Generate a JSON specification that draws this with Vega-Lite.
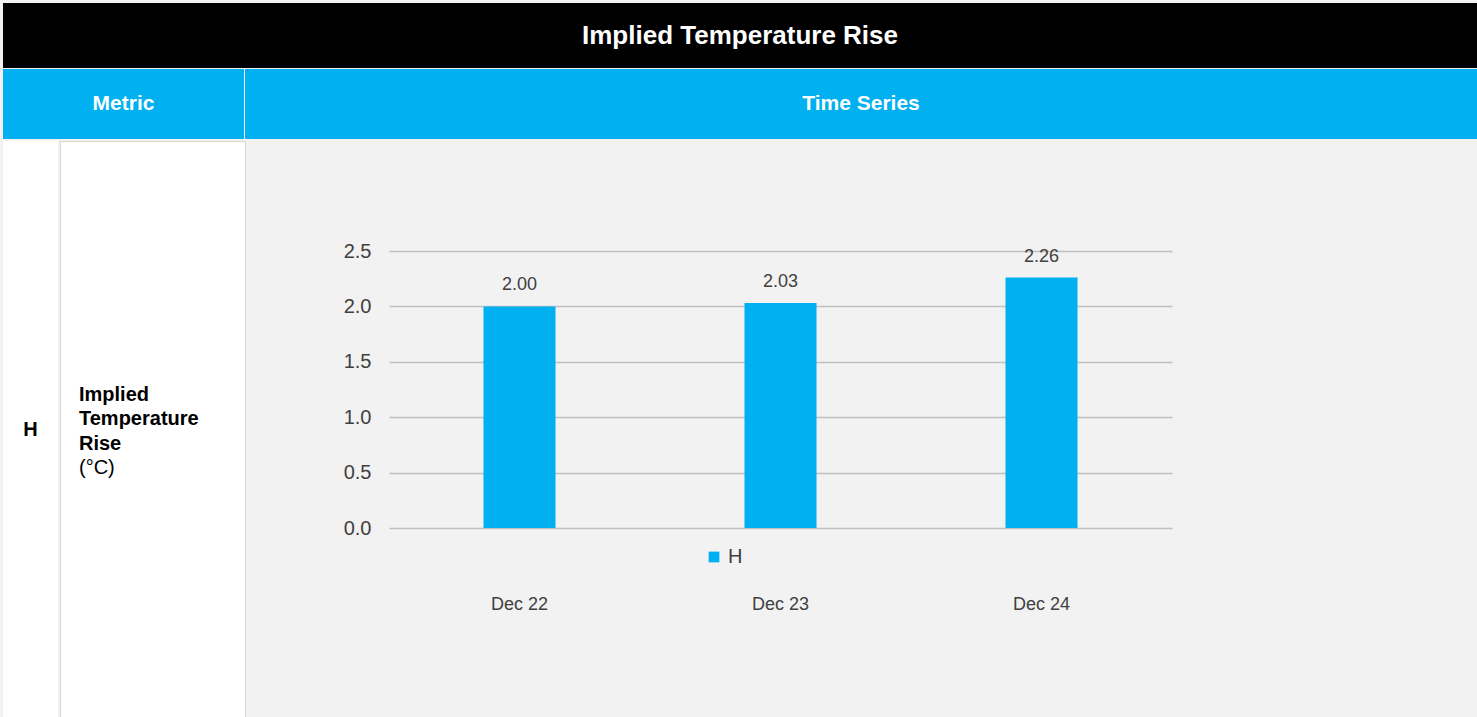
{
  "$schema": "https://vega.github.io/schema/vega-lite/v6.json",
  "background": "#f2f2f2",
  "padding": {"left": 3, "top": 3, "right": 0, "bottom": 0},
  "config": {
    "view": {"stroke": null},
    "font": "Liberation Sans",
    "text": {"font": "Liberation Sans"}
  },
  "datasets": {
    "title": [{"label": "Implied Temperature Rise"}],
    "metricHeader": [{"label": "Metric"}],
    "seriesHeader": [{"label": "Time Series"}],
    "code": [{"label": "H"}],
    "metric": [
      {"line": 1, "label": "Implied", "part": "name"},
      {"line": 2, "label": "Temperature", "part": "name"},
      {"line": 3, "label": "Rise", "part": "name"},
      {"line": 4, "label": "(°C)", "part": "unit"}
    ],
    "series": [
      {"period": "Dec 22", "series": "H", "value": 2.00},
      {"period": "Dec 23", "series": "H", "value": 2.03},
      {"period": "Dec 24", "series": "H", "value": 2.26}
    ]
  },
  "spacing": 1,
  "vconcat": [
    {
      "width": 1474,
      "height": 65,
      "view": {"fill": "#000000", "stroke": null},
      "data": {"name": "title"},
      "mark": {"type": "text", "color": "#ffffff", "fontSize": 26, "fontWeight": "bold", "align": "center", "baseline": "middle"},
      "encoding": {"text": {"field": "label", "type": "nominal"}}
    },
    {
      "spacing": 1,
      "hconcat": [
        {
          "width": 241,
          "height": 70,
          "view": {"fill": "#00b0f0", "stroke": null},
          "data": {"name": "metricHeader"},
          "mark": {"type": "text", "color": "#ffffff", "fontSize": 21, "fontWeight": "bold", "align": "center", "baseline": "middle"},
          "encoding": {"text": {"field": "label", "type": "nominal"}}
        },
        {
          "width": 1232,
          "height": 70,
          "view": {"fill": "#00b0f0", "stroke": null},
          "data": {"name": "seriesHeader"},
          "mark": {"type": "text", "color": "#ffffff", "fontSize": 21, "fontWeight": "bold", "align": "center", "baseline": "middle"},
          "encoding": {"text": {"field": "label", "type": "nominal"}}
        }
      ]
    },
    {
      "spacing": 97,
      "hconcat": [
        {
          "spacing": 1,
          "hconcat": [
            {
              "width": 55,
              "height": 577,
              "view": {"fill": "#ffffff", "stroke": null},
              "data": {"name": "code"},
              "mark": {"type": "text", "color": "#000000", "fontSize": 20, "fontWeight": "bold", "align": "center", "baseline": "middle"},
              "encoding": {"text": {"field": "label", "type": "nominal"}}
            },
            {
              "width": 185,
              "height": 577,
              "view": {"fill": "#ffffff", "stroke": "#d6d6d6"},
              "data": {"name": "metric"},
              "encoding": {
                "y": {"field": "line", "type": "quantitative", "scale": {"domain": [-9.44, 14.27], "reverse": true, "nice": false, "zero": false}, "axis": null},
                "x": {"value": 19},
                "text": {"field": "label", "type": "nominal"}
              },
              "layer": [
                {
                  "transform": [{"filter": "datum.part === 'name'"}],
                  "mark": {"type": "text", "color": "#000000", "fontSize": 20, "fontWeight": "bold", "align": "left", "baseline": "middle"}
                },
                {
                  "transform": [{"filter": "datum.part === 'unit'"}],
                  "mark": {"type": "text", "color": "#000000", "fontSize": 20, "fontWeight": "normal", "align": "left", "baseline": "middle"}
                }
              ]
            }
          ]
        },
        {
          "spacing": 0,
          "vconcat": [
            {
              "width": 1,
              "height": 100,
              "data": {"values": []},
              "mark": {"type": "point", "opacity": 0},
              "encoding": {}
            },
            {
              "width": 783,
              "height": 277,
              "data": {"name": "series"},
              "encoding": {
                "x": {
                  "field": "period",
                  "type": "nominal",
                  "sort": null,
                  "scale": {"paddingInner": 0.724, "paddingOuter": 0.362},
                  "axis": {
                    "title": null,
                    "labelAngle": 0,
                    "domain": false,
                    "ticks": false,
                    "grid": false,
                    "labelPadding": 67,
                    "labelFontSize": 18,
                    "labelColor": "#404040",
                    "labelFont": "Liberation Sans"
                  }
                },
                "y": {
                  "field": "value",
                  "type": "quantitative",
                  "scale": {"domain": [0, 2.5], "nice": false},
                  "axis": {
                    "title": null,
                    "values": [0, 0.5, 1, 1.5, 2, 2.5],
                    "format": ".1f",
                    "domain": false,
                    "ticks": false,
                    "grid": true,
                    "gridColor": "#c0c0c0",
                    "gridWidth": 1.6,
                    "labelPadding": 18,
                    "labelFontSize": 20,
                    "labelColor": "#404040",
                    "labelFont": "Liberation Sans"
                  }
                }
              },
              "layer": [
                {
                  "mark": {"type": "bar"},
                  "encoding": {
                    "color": {
                      "field": "series",
                      "type": "nominal",
                      "scale": {"range": ["#00b0f0"]},
                      "legend": {
                        "title": null,
                        "orient": "none",
                        "legendX": 701,
                        "legendY": 544,
                        "symbolType": "square",
                        "symbolSize": 115,
                        "symbolStrokeWidth": 0,
                        "labelFontSize": 20,
                        "labelColor": "#404040",
                        "labelFont": "Liberation Sans",
                        "labelOffset": 4
                      }
                    }
                  }
                },
                {
                  "mark": {"type": "text", "dy": -21, "fontSize": 18, "color": "#404040", "baseline": "middle", "align": "center"},
                  "encoding": {
                    "text": {"field": "value", "type": "quantitative", "format": ".2f"}
                  }
                }
              ]
            }
          ]
        }
      ]
    }
  ]
}
